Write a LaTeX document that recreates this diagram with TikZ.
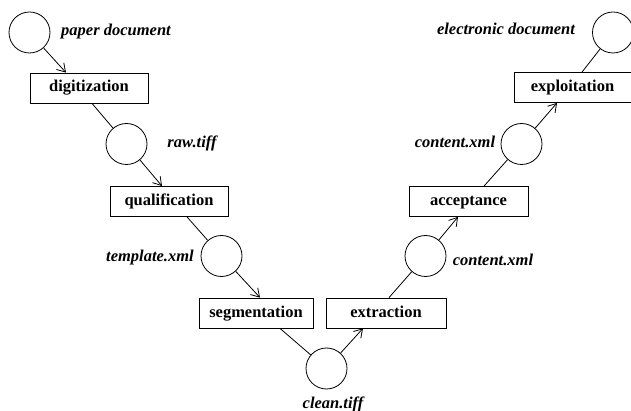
\documentclass[tikz,border=0pt]{standalone}
\usepackage{fontspec}
\setmainfont{Liberation Serif}
\usetikzlibrary{arrows.meta}
\tikzset{doc/.style={circle,draw,minimum size=41pt,inner sep=0pt},
	task/.style={draw,minimum height=30pt,inner sep=0pt,text height=11.5pt,text depth=3.5pt,font=\fontsize{16.5}{19}\selectfont\bfseries},
	file/.style={font=\fontsize{16.5}{19}\selectfont\bfseries\itshape,inner sep=0pt,text height=11.5pt,text depth=3.5pt},
	flow/.style={-{Straight Barb[length=8pt,width=10pt]}}}

\begin{document}
\begin{tikzpicture}
	[x=1pt,y=-1pt,line width=0.8pt]
	\useasboundingbox (0,0) rectangle (631,411);

	\node [doc] (paper) at (29.5,32.5) {};
	\node [doc] (raw) at (126.5,144) {};
	\node [doc] (template) at (221.5,256) {};
	\node [doc] (clean) at (326.5,368.5) {};
	\node [doc] (contentA) at (425.5,256) {};
	\node [doc] (contentB) at (521.5,144) {};
	\node [doc] (electronic) at (613,32.5) {};

	\node [task,minimum width=118pt] (digit) at (89,88) {digitization};
	\node [task,minimum width=118pt] (qualif) at (169,201.5) {qualification};
	\node [task,minimum width=114pt] (segment) at (256,313) {segmentation};
	\node [task,minimum width=120pt] (extract) at (386,313) {extraction};
	\node [task,minimum width=119pt] (accept) at (468.5,201.5) {acceptance};
	\node [task,minimum width=117pt] (exploit) at (572.5,87.5) {exploitation};

	\node [file] (paperlbl) at (116,32) {paper document};
	\node [file] (rawlbl) at (192,144) {raw.tiff};
	\node [file] (templatelbl) at (150,258) {template.xml};
	\node [file] (cleanlbl) at (333,404) {clean.tiff};
	\node [file] (contentAlbl) at (493,262) {content.xml};
	\node [file] (contentBlbl) at (455,144) {content.xml};
	\node [file] (electroniclbl) at (506,31) {electronic document};

	\draw [flow] (paper) -- ([xshift=-23pt]digit.north);
	\draw ([xshift=3pt]digit.south) -- (raw);
	\draw [flow] (raw) -- ([xshift=-7pt]qualif.north);
	\draw ([xshift=18pt]qualif.south) -- (template);
	\draw [flow] (template) -- ([xshift=4pt]segment.north);
	\draw ([xshift=24pt]segment.south) -- (clean);
	\draw [flow] (clean) -- ([xshift=-23pt]extract.south);
	\draw ([xshift=3pt]extract.north) -- (contentA);
	\draw [flow] (contentA) -- ([xshift=-10.5pt]accept.south);
	\draw ([xshift=15.5pt]accept.north) -- (contentB);
	\draw [flow] (contentB) -- ([xshift=-15.5pt]exploit.south);
	\draw ([xshift=9.5pt]exploit.north) -- (electronic);
\end{tikzpicture}
\end{document}
